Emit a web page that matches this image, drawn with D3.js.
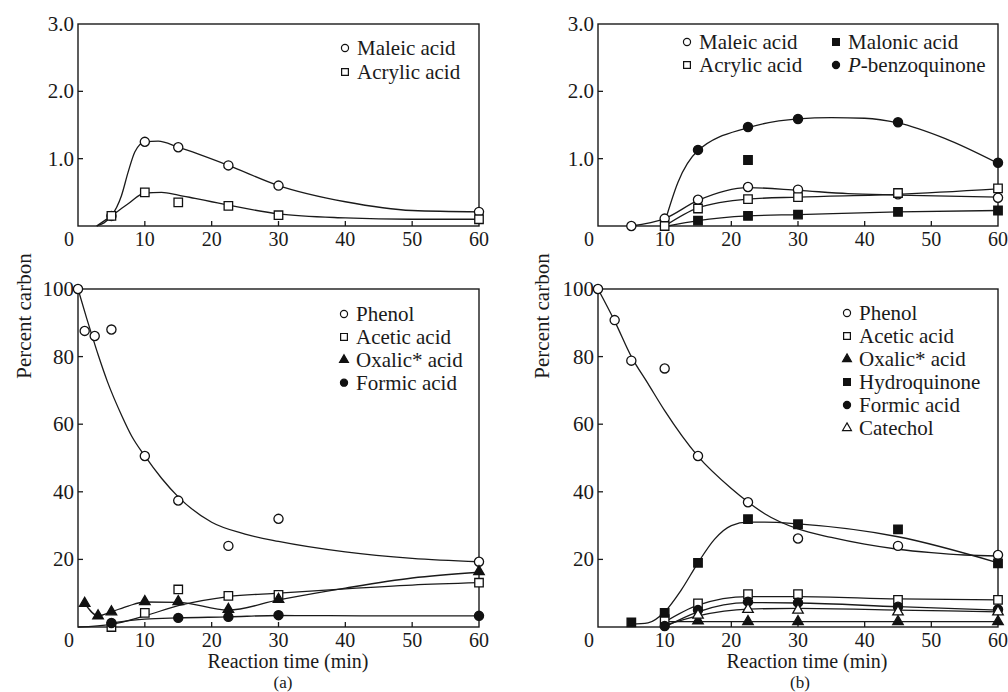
<!DOCTYPE html>
<html>
<head>
<meta charset="UTF-8">
<script src="https://d3js.org/d3.v7.min.js"></script>
<style>
  body { margin: 0; background: #fff; }
  svg text { font-family: "Liberation Serif", "DejaVu Serif", serif; fill: #1a1a1a; }
</style>
</head>
<body>
<svg id="canvas" font-family="Liberation Serif, DejaVu Serif, serif"></svg>
<script>

width = 1008;
height = 692;

// ---- (a) upper : maleic / acrylic ----
aTopTime     = [5, 10, 15, 22.5, 30, 60];
aTopMaleic   = [0.15, 1.25, 1.17, 0.9, 0.6, 0.21];
aTopAcrylic  = [0.15, 0.5, 0.35, 0.3, 0.16, 0.1];
// fitted curves
aMaleicFitX  = [2.8, 5, 6.5, 7.5, 8.5, 10, 12, 15, 22.5, 30, 40, 50, 60];
aMaleicFitY  = [0, 0.15, 0.45, 0.8, 1.1, 1.25, 1.26, 1.17, 0.9, 0.6, 0.36, 0.23, 0.21];
aAcrylicFitX = [2.8, 5, 7.5, 10, 12.5, 15, 17.5, 20, 22.5, 30, 40, 50, 60];
aAcrylicFitY = [0, 0.15, 0.33, 0.49, 0.5, 0.46, 0.41, 0.36, 0.31, 0.18, 0.12, 0.1, 0.1];

// ---- (b) upper ----
bMaleicX  = [5, 10, 15, 22.5, 30, 45, 60];
bMaleicY  = [0, 0.11, 0.39, 0.58, 0.54, 0.47, 0.42];
bAcrylicX = [10, 15, 22.5, 30, 45, 60];
bAcrylicY = [0, 0.26, 0.4, 0.43, 0.49, 0.56];
bMalonicX = [15, 22.5, 22.5, 30, 45, 60];
bMalonicY = [0.08, 0.98, 0.15, 0.17, 0.21, 0.23];
bBenzoX   = [15, 22.5, 30, 45, 60];
bBenzoY   = [1.13, 1.47, 1.59, 1.54, 0.94];
bMaleicFitX  = [5, 10, 15, 22.5, 30, 37.5, 45, 60];
bMaleicFitY  = [0, 0.11, 0.38, 0.57, 0.53, 0.48, 0.46, 0.43];
bAcrylicFitX = [10, 15, 22.5, 30, 45, 60];
bAcrylicFitY = [0, 0.27, 0.4, 0.43, 0.47, 0.55];
bMalonicFitX = [10.5, 15, 22.5, 30, 45, 60];
bMalonicFitY = [0, 0.08, 0.15, 0.17, 0.21, 0.23];
bBenzoFitX   = [10, 12, 15, 22.5, 30, 35, 40, 45, 52, 60];
bBenzoFitY   = [0.05, 0.65, 1.12, 1.46, 1.59, 1.61, 1.6, 1.53, 1.3, 0.93];

// ---- (a) lower : percent carbon ----
aPhenolX  = [0, 1, 2.5, 5, 10, 15, 22.5, 30, 60];
aPhenolY  = [100, 87.6, 86.1, 88, 50.6, 37.4, 24, 32, 19.3];
aAceticX  = [5, 10, 15, 22.5, 30, 60];
aAceticY  = [0, 4.2, 11.1, 9.2, 9.5, 13.1];
aOxalicX  = [1, 3, 5, 10, 15, 22.5, 30, 60];
aOxalicY  = [7, 3.3, 4.5, 7.5, 7.5, 5.2, 8.2, 16.4];
aFormicX  = [5, 15, 22.5, 30, 60];
aFormicY  = [1.2, 2.7, 3, 3.5, 3.3];
aPhenolFitX = [0, 1.3, 2.1, 3, 4.4, 6.6, 8, 10, 12.5, 15, 20, 25, 30, 40, 50, 60];
aPhenolFitY = [100, 91.3, 86.2, 80.6, 72.6, 62.3, 56.6, 50.6, 44, 38.5, 31, 27.5, 25.3, 22.2, 20.3, 19.3];
aAceticFitX = [0, 5, 10, 15, 22.5, 30, 40, 50, 60];
aAceticFitY = [0, 0.8, 3.3, 6.3, 9, 10, 11.3, 12.4, 13.1];
aOxalicFitX = [1, 3, 5, 7.5, 10, 15, 22.5, 30, 40, 50, 60];
aOxalicFitY = [7, 3.3, 4.5, 6.2, 7.4, 7.3, 5, 8, 11.5, 14.5, 16.2];
aFormicFitX = [5, 10, 15, 22.5, 30, 45, 60];
aFormicFitY = [1.2, 2.3, 2.7, 3, 3.4, 3.3, 3.3];

// ---- (b) lower ----
bPhenolX  = [0, 2.5, 5, 10, 15, 22.5, 30, 45, 60];
bPhenolY  = [100, 90.8, 78.8, 76.5, 50.6, 36.9, 26.2, 24, 21.3];
bAceticX  = [10, 15, 22.5, 30, 45, 60];
bAceticY  = [2.3, 7, 9.7, 9.7, 8, 8];
bOxalicX  = [15, 22.5, 30, 45, 60];
bOxalicY  = [1.8, 1.6, 1.6, 1.6, 1.6];
bHydroX   = [5, 10, 15, 22.5, 30, 45, 60];
bHydroY   = [1.4, 4.2, 19, 31.9, 30.4, 28.9, 18.8];
bFormicX  = [10, 15, 22.5, 30, 45, 60];
bFormicY  = [0.3, 5, 7.5, 7.2, 6, 5.2];
bCatecholX = [15, 22.5, 30, 45, 60];
bCatecholY = [3.5, 5.2, 5, 4.5, 4.5];
bPhenolFitX = [0, 2.5, 5, 7.5, 10, 15, 20, 22.5, 25, 30, 35, 40, 45, 50, 55, 60];
bPhenolFitY = [100, 90.5, 80, 72, 64, 50.5, 41, 37, 33.5, 29, 26.5, 24.5, 23, 22, 21.3, 21];
bHydroFitX  = [5, 7.5, 10, 12.5, 15, 17.5, 20, 22.5, 25, 30, 45, 60];
bHydroFitY  = [0.8, 1.2, 4.5, 11, 19, 26, 30, 31, 31, 30.5, 26.7, 19];
bAceticFitX = [10, 15, 22.5, 30, 45, 60];
bAceticFitY = [1.5, 6.5, 9, 9, 8.3, 8];
bFormicFitX = [10, 15, 22.5, 30, 45, 60];
bFormicFitY = [0, 4.5, 7.2, 7.1, 6, 5];
bCatecholFitX = [10, 15, 22.5, 30, 45, 60];
bCatecholFitY = [0.5, 3.3, 5.3, 5.5, 5, 4.5];
bOxalicFitX = [10, 60];
bOxalicFitY = [1.6, 1.6];

xTicks = [10, 20, 30, 40, 50, 60];
topTicks = [1, 2, 3];
bottomTicks = [20, 40, 60, 80, 100];

zip = (xs, ys) => xs.map((x, i) => [x, ys[i]]);

canvas = d3.select("#canvas")
    .attr("width", width)
    .attr("height", height);

canvas.append("rect")
    .attr("width", width).attr("height", height)
    .attr("fill", "#fff");

shapes = {
    circle: d3.symbolCircle,
    square: d3.symbolSquare,
    triangle: d3.symbolTriangle
};
dataSize = { circle: 66, square: 72, triangle: 48 };
legendSize = { circle: 40, square: 46, triangle: 34 };

function drawPanel(p) {
    x = d3.scaleLinear().domain([0, 60]).range([p.left, p.right]);
    y = d3.scaleLinear().domain([0, p.yMax]).range([p.bottom, p.top]);

    g = canvas.append("g");

    // fitted lines
    line = d3.line()
        .x((d) => x(d[0]))
        .y((d) => y(d[1]))
        .curve(d3.curveMonotoneX);

    p.series.forEach((s) => {
        if (s.fit) {
            g.append("path")
                .attr("d", line(s.fit))
                .attr("style", "fill:none; stroke:#1a1a1a; stroke-width:1.3;");
        }
    });

    // frame
    g.append("rect")
        .attr("x", p.left).attr("y", p.top)
        .attr("width", p.right - p.left).attr("height", p.bottom - p.top)
        .attr("style", "fill:none; stroke:#1a1a1a; stroke-width:1.4;");

    // inward ticks
    g.selectAll(".xt").data(xTicks.slice(0, -1)).enter()
        .append("line")
            .attr("x1", (d) => x(d)).attr("x2", (d) => x(d))
            .attr("y1", p.bottom).attr("y2", p.bottom - 5)
            .attr("style", "stroke:#1a1a1a; stroke-width:1.3;");
    g.selectAll(".yt").data(p.ticks.slice(0, -1)).enter()
        .append("line")
            .attr("x1", p.left).attr("x2", p.left + 5)
            .attr("y1", (d) => y(d)).attr("y2", (d) => y(d))
            .attr("style", "stroke:#1a1a1a; stroke-width:1.3;");

    // tick labels
    g.selectAll(".xl").data(xTicks).enter()
        .append("text")
            .attr("x", (d) => x(d))
            .attr("y", p.bottom + 20)
            .attr("text-anchor", "middle")
            .attr("font-size", 20)
            .text((d) => d);
    g.append("text")
        .attr("x", p.left - 9)
        .attr("y", p.bottom + 20)
        .attr("text-anchor", "middle")
        .attr("font-size", 20)
        .text("0");
    g.selectAll(".yl").data(p.ticks).enter()
        .append("text")
            .attr("x", p.left - 4)
            .attr("y", (d) => y(d) + 7)
            .attr("text-anchor", "end")
            .attr("font-size", 21)
            .text((d) => p.fmt(d));

    // markers
    p.series.forEach((s) => {
        sym = d3.symbol().type(shapes[s.shape]).size(dataSize[s.shape]);
        g.selectAll(null).data(s.points).enter()
            .append("path")
                .attr("d", sym)
                .attr("transform", (d) => "translate(" + x(d[0]) + "," + y(d[1]) + ")")
                .attr("style", "fill:" + (s.filled ? "#111" : "#fff") + "; stroke:#111; stroke-width:1.3;");
    });

    // legend
    p.series.forEach((s, i) => {
        col = s.col || 0;
        row = s.row;
        lx = p.legend.x[col];
        ly = p.legend.y + row * p.legend.dy;
        sym = d3.symbol().type(shapes[s.shape]).size(legendSize[s.shape]);
        g.append("path")
            .attr("d", sym)
            .attr("transform", "translate(" + lx + "," + ly + ")")
            .attr("style", "fill:" + (s.filled ? "#111" : "#fff") + "; stroke:#111; stroke-width:1.2;");
        t = g.append("text")
            .attr("x", lx + 12)
            .attr("y", ly + 7)
            .attr("font-size", 21);
        if (s.italicPrefix) {
            t.append("tspan").attr("font-style", "italic").text(s.italicPrefix);
        }
        t.append("tspan").text(s.name);
    });
}

fmt1 = d3.format(".1f");
fmt0 = d3.format("d");

drawPanel({
    left: 78, right: 479, top: 24, bottom: 226, yMax: 3, ticks: topTicks, fmt: fmt1,
    legend: { x: [345], y: 48, dy: 24 },
    series: [
        { name: "Maleic acid", shape: "circle", filled: false, row: 0,
          points: zip(aTopTime, aTopMaleic), fit: zip(aMaleicFitX, aMaleicFitY) },
        { name: "Acrylic acid", shape: "square", filled: false, row: 1,
          points: zip(aTopTime, aTopAcrylic), fit: zip(aAcrylicFitX, aAcrylicFitY) }
    ]
});

drawPanel({
    left: 598, right: 998, top: 24, bottom: 226, yMax: 3, ticks: topTicks, fmt: fmt1,
    legend: { x: [687, 836], y: 42, dy: 23 },
    series: [
        { name: "Maleic acid", shape: "circle", filled: false, row: 0, col: 0,
          points: zip(bMaleicX, bMaleicY), fit: zip(bMaleicFitX, bMaleicFitY) },
        { name: "Acrylic acid", shape: "square", filled: false, row: 1, col: 0,
          points: zip(bAcrylicX, bAcrylicY), fit: zip(bAcrylicFitX, bAcrylicFitY) },
        { name: "Malonic acid", shape: "square", filled: true, row: 0, col: 1,
          points: zip(bMalonicX, bMalonicY), fit: zip(bMalonicFitX, bMalonicFitY) },
        { name: "-benzoquinone", italicPrefix: "P", shape: "circle", filled: true, row: 1, col: 1,
          points: zip(bBenzoX, bBenzoY), fit: zip(bBenzoFitX, bBenzoFitY) }
    ]
});

drawPanel({
    left: 78, right: 479, top: 289, bottom: 627, yMax: 100, ticks: bottomTicks, fmt: fmt0,
    legend: { x: [344], y: 314, dy: 22.9 },
    series: [
        { name: "Phenol", shape: "circle", filled: false, row: 0,
          points: zip(aPhenolX, aPhenolY), fit: zip(aPhenolFitX, aPhenolFitY) },
        { name: "Acetic acid", shape: "square", filled: false, row: 1,
          points: zip(aAceticX, aAceticY), fit: zip(aAceticFitX, aAceticFitY) },
        { name: "Oxalic* acid", shape: "triangle", filled: true, row: 2,
          points: zip(aOxalicX, aOxalicY), fit: zip(aOxalicFitX, aOxalicFitY) },
        { name: "Formic acid", shape: "circle", filled: true, row: 3,
          points: zip(aFormicX, aFormicY), fit: zip(aFormicFitX, aFormicFitY) }
    ]
});

drawPanel({
    left: 598, right: 998, top: 289, bottom: 627, yMax: 100, ticks: bottomTicks, fmt: fmt0,
    legend: { x: [847], y: 313, dy: 23 },
    series: [
        { name: "Phenol", shape: "circle", filled: false, row: 0,
          points: zip(bPhenolX, bPhenolY), fit: zip(bPhenolFitX, bPhenolFitY) },
        { name: "Acetic acid", shape: "square", filled: false, row: 1,
          points: zip(bAceticX, bAceticY), fit: zip(bAceticFitX, bAceticFitY) },
        { name: "Oxalic* acid", shape: "triangle", filled: true, row: 2,
          points: zip(bOxalicX, bOxalicY), fit: zip(bOxalicFitX, bOxalicFitY) },
        { name: "Hydroquinone", shape: "square", filled: true, row: 3,
          points: zip(bHydroX, bHydroY), fit: zip(bHydroFitX, bHydroFitY) },
        { name: "Formic acid", shape: "circle", filled: true, row: 4,
          points: zip(bFormicX, bFormicY), fit: zip(bFormicFitX, bFormicFitY) },
        { name: "Catechol", shape: "triangle", filled: false, row: 5,
          points: zip(bCatecholX, bCatecholY), fit: zip(bCatecholFitX, bCatecholFitY) }
    ]
});

// axis titles
[{ cx: 288, lx: 31, lab: "(a)", labX: 283 }, { cx: 807, lx: 549, lab: "(b)", labX: 800 }].forEach((a) => {
    canvas.append("text")
        .attr("x", a.cx).attr("y", 668)
        .attr("text-anchor", "middle")
        .attr("font-size", 20)
        .text("Reaction time (min)");
    canvas.append("text")
        .attr("x", a.labX).attr("y", 688)
        .attr("text-anchor", "middle")
        .attr("font-size", 17)
        .text(a.lab);
    canvas.append("text")
        .attr("transform", "translate(" + a.lx + ",316) rotate(-90)")
        .attr("text-anchor", "middle")
        .attr("font-size", 21)
        .text("Percent carbon");
});

</script>
</body>
</html>
